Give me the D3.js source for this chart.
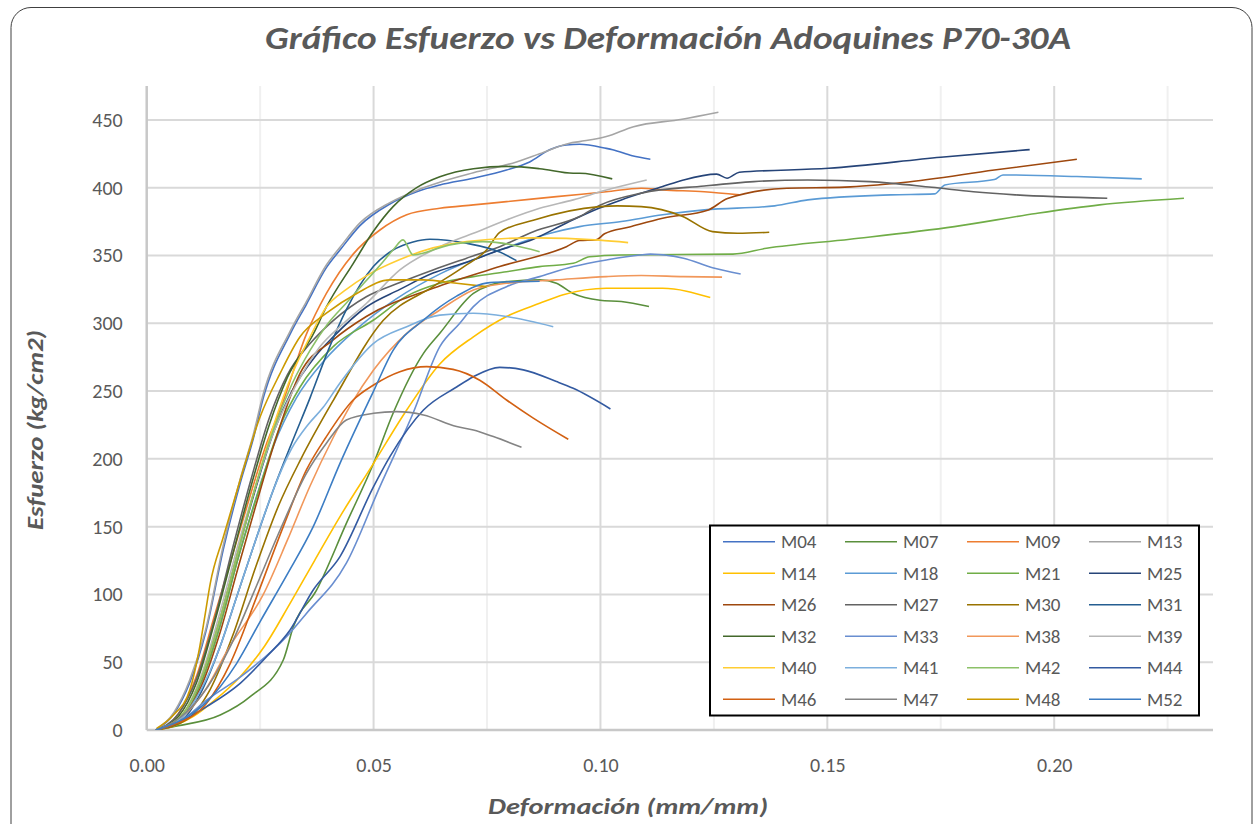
<!DOCTYPE html>
<html><head><meta charset="utf-8">
<script src="https://cdn.jsdelivr.net/npm/d3@7/dist/d3.min.js"></script>
<style>
html,body{margin:0;padding:0;background:#fff;}
svg{display:block;}
</style></head>
<body>
<svg id="chart" width="1258" height="824"></svg>
<script>
// ---------- DATA ----------
const chartTitle = "Gráfico Esfuerzo vs Deformación Adoquines P70-30A";
const xTitle = "Deformación (mm/mm)";
const yTitle = "Esfuerzo (kg/cm2)";
const xTicks = [0, 0.05, 0.10, 0.15, 0.20];
const xMinorTicks = [0.025, 0.075, 0.125, 0.175, 0.225];
const yTicks = [0, 50, 100, 150, 200, 250, 300, 350, 400, 450];
const seriesNames = ["M04","M07","M09","M13","M14","M18","M21","M25","M26","M27","M30","M31","M32","M33","M38","M39","M40","M41","M42","M44","M46","M47","M48","M52"];
const seriesColors = ["#4472C4","#5A8F3C","#ED7D31","#A5A5A5","#FFC000","#5B9BD5","#70AD47","#264478","#9E480E","#636363","#997300","#255E91","#43682B","#698ED0","#F1975A","#B7B7B7","#FFCD33","#7CAFDD","#8CC168","#335AA1","#D26012","#848484","#CC9A00","#3C7DC4"];

// [deformación, esfuerzo]
const M04 = [[0.002,0],[0.006,12],[0.0095,35],[0.013,72],[0.017,135],[0.0206,182],[0.0235,215],[0.0257,245],[0.0316,292],[0.0352,314],[0.0396,341],[0.0426,354],[0.047,372],[0.0536,388],[0.0595,397],[0.0646,402],[0.072,407],[0.0793,413],[0.0844,419],[0.0888,428],[0.0925,431.5],[0.0954,432],[0.1013,429],[0.1027,428],[0.107,423.5],[0.111,421]];
const M07 = [[0.002,0],[0.0059,2.5],[0.0162,11],[0.0228,24.6],[0.0301,51.6],[0.0323,76],[0.0374,103],[0.044,152.4],[0.05,196.7],[0.0543,233.6],[0.061,277.8],[0.0646,292.6],[0.072,322],[0.0793,330.7],[0.0866,332],[0.0903,329.5],[0.094,322],[0.0999,317],[0.1046,316],[0.1107,312.3]];
const M09 = [[0.002,0],[0.007,12],[0.011,40],[0.015,85],[0.019,130],[0.023,175],[0.0265,212],[0.0294,236],[0.0352,292],[0.0396,322],[0.0455,351],[0.0514,368.8],[0.0573,380],[0.0646,384.8],[0.072,387.3],[0.0793,389.7],[0.0903,393.4],[0.1013,397],[0.109,399.6],[0.1137,398.4],[0.1229,397],[0.1306,394.7]];
const M13 = [[0.002,0],[0.006,13],[0.0095,37],[0.013,74],[0.017,138],[0.0206,185],[0.0235,218],[0.0257,248],[0.0316,294],[0.0352,316],[0.0396,343],[0.0426,356],[0.047,374],[0.0536,389],[0.0595,398],[0.0646,404],[0.072,411],[0.0815,419],[0.0866,425],[0.0932,432.8],[0.0954,434],[0.1013,437.7],[0.1073,445],[0.118,450.5],[0.126,455.6]];
const M14 = [[0.002,0],[0.006,3],[0.0103,10],[0.015,22],[0.0206,39.3],[0.026,62],[0.0316,93.4],[0.037,125],[0.0426,157.4],[0.05,196.7],[0.0573,236],[0.0646,270],[0.072,290],[0.0793,305],[0.0866,314.7],[0.0918,321],[0.1013,325.8],[0.1087,325.8],[0.1137,325.8],[0.1242,319]];
const M18 = [[0.002,0],[0.008,10],[0.012,35],[0.016,75],[0.02,125],[0.024,170],[0.028,210],[0.033,245],[0.039,272],[0.046,295],[0.055,318],[0.065,337],[0.0778,354],[0.0885,366],[0.0954,371.3],[0.1046,375],[0.1137,380],[0.1229,383.6],[0.1384,386.6],[0.1457,391],[0.164,394.7],[0.1736,395.4],[0.1759,402],[0.1868,406],[0.1887,409.4],[0.205,408.2],[0.2193,406.5]];
const M21 = [[0.002,0],[0.008,10],[0.012,35],[0.016,75],[0.02,125],[0.025,180],[0.0295,225],[0.0338,253],[0.0411,282.8],[0.05,302.4],[0.0573,320],[0.0646,329.5],[0.072,334.4],[0.0793,338],[0.0866,341.8],[0.094,344.2],[0.0976,349],[0.1046,350.4],[0.1292,351],[0.1366,355.3],[0.155,362],[0.178,371.3],[0.196,381],[0.21,387.3],[0.2286,392.2]];
const M25 = [[0.002,0],[0.008,12],[0.012,38],[0.016,80],[0.02,130],[0.024,178],[0.028,220],[0.032,250],[0.037,275],[0.0411,290],[0.0484,312],[0.0558,325],[0.0631,337],[0.0705,345],[0.0778,354],[0.0852,362],[0.0925,374],[0.0998,385],[0.1046,391],[0.1137,400.8],[0.1183,405.7],[0.1256,410],[0.1279,407],[0.1306,411.4],[0.1503,414.3],[0.175,422.5],[0.1946,428.1]];
const M26 = [[0.002,0],[0.008,10],[0.012,32],[0.016,70],[0.02,118],[0.024,165],[0.028,210],[0.0338,263],[0.0411,287.7],[0.0484,305],[0.0631,325.8],[0.0778,341.8],[0.0925,356.5],[0.0954,361],[0.099,361.5],[0.1009,366],[0.1064,371],[0.1137,377.5],[0.1238,383.6],[0.128,392],[0.1411,399.6],[0.1539,400.4],[0.1667,403.8],[0.1868,413],[0.205,421]];
const M27 = [[0.002,0],[0.007,12],[0.011,38],[0.015,82],[0.019,135],[0.023,185],[0.027,230],[0.031,262],[0.036,285],[0.0411,302],[0.0484,319.6],[0.0558,330],[0.0631,339.3],[0.0705,348],[0.0778,356.5],[0.0852,367.5],[0.0954,378.7],[0.10,387.3],[0.109,396],[0.1229,401.3],[0.1338,404.5],[0.1457,405.7],[0.1594,404.5],[0.173,400.3],[0.1822,397],[0.1914,394.7],[0.2117,392.2]];
const M30 = [[0.002,0],[0.009,8],[0.014,30],[0.019,70],[0.024,120],[0.029,165],[0.034,200],[0.0411,243],[0.0521,302],[0.0631,327],[0.07,342],[0.0749,354],[0.0778,367],[0.0852,376],[0.0998,386],[0.1037,386.6],[0.109,386],[0.118,379],[0.1247,367.6],[0.1302,366.4],[0.1372,367.1]];
const M31 = [[0.002,0],[0.008,8],[0.012,28],[0.016,60],[0.02,100],[0.024,140],[0.028,178],[0.032,212],[0.036,245],[0.040,280],[0.044,310],[0.05,342],[0.0543,354],[0.0587,360],[0.0624,362],[0.0705,359],[0.0778,352.5],[0.0815,346.2]];
const M32 = [[0.002,0],[0.007,10],[0.011,35],[0.015,80],[0.019,130],[0.023,180],[0.027,225],[0.031,260],[0.0367,292],[0.0396,312],[0.0455,344],[0.05,368],[0.0543,386],[0.0595,400],[0.0646,408],[0.072,414],[0.0793,415.7],[0.0866,414],[0.094,410.6],[0.0954,410.7],[0.1026,406.5]];
const M33 = [[0.002,0],[0.008,8],[0.0132,22],[0.0206,39],[0.0308,68.8],[0.0352,86],[0.044,123],[0.0514,179.5],[0.0587,233.6],[0.0646,282.8],[0.069,300],[0.072,312.3],[0.0793,327],[0.0866,334.4],[0.094,341.8],[0.1013,346.7],[0.1087,350.4],[0.111,351],[0.1183,348],[0.1247,341],[0.1309,336.4]];
const M38 = [[0.002,0],[0.008,10],[0.013,30],[0.018,60],[0.0257,100],[0.031,140],[0.036,180],[0.041,215],[0.045,240],[0.05,265.5],[0.0573,292.6],[0.0646,309.8],[0.072,324.6],[0.0793,329.5],[0.0903,332],[0.1013,334.4],[0.109,335.2],[0.1183,334.4],[0.1268,334]];
const M39 = [[0.002,0],[0.008,12],[0.012,40],[0.016,85],[0.02,135],[0.024,180],[0.028,220],[0.033,255],[0.038,282],[0.0434,300],[0.0484,314.6],[0.0558,339.3],[0.0646,356.5],[0.072,366.4],[0.0793,376.2],[0.0866,384.8],[0.094,391],[0.1013,398.3],[0.1102,405.7]];
const M40 = [[0.002,0],[0.008,12],[0.012,38],[0.016,80],[0.02,130],[0.024,180],[0.028,225],[0.032,262],[0.036,290],[0.0396,312],[0.044,325],[0.0484,335],[0.0558,347],[0.0631,355.6],[0.0705,360.2],[0.0852,363],[0.0998,361.3],[0.1061,359.5]];
const M41 = [[0.002,0],[0.008,10],[0.012,30],[0.016,60],[0.02,100],[0.024,140],[0.028,178],[0.032,208],[0.0355,225],[0.0389,238],[0.0426,256],[0.05,285.2],[0.0573,297.5],[0.0646,306],[0.072,307.4],[0.0793,305],[0.0896,297.5]];
const M42 = [[0.002,0],[0.008,12],[0.012,38],[0.016,80],[0.02,130],[0.024,180],[0.028,222],[0.032,255],[0.036,280],[0.04,300],[0.044,315],[0.048,330],[0.052,345],[0.0545,355],[0.0565,361.5],[0.0587,350.4],[0.0668,357.8],[0.0741,360.2],[0.0866,352.8]];
const M44 = [[0.002,0],[0.006,4],[0.0132,17.2],[0.0206,34.4],[0.0264,54],[0.0316,73.8],[0.0367,103.3],[0.0426,127.9],[0.05,179.5],[0.0536,201.6],[0.061,236],[0.0683,253],[0.072,260.6],[0.0778,267.5],[0.083,265.6],[0.0903,257],[0.094,252],[0.1022,236.8]];
const M46 = [[0.002,0],[0.006,4],[0.0132,19.7],[0.0184,49],[0.0242,98],[0.0301,150],[0.0352,191.8],[0.0396,216.4],[0.0455,243.4],[0.05,254.5],[0.0558,264.3],[0.0617,268],[0.0675,266],[0.0734,258],[0.0793,243.4],[0.0852,230],[0.0929,214.4]];
const M47 = [[0.002,0],[0.006,6],[0.012,25],[0.0184,61.5],[0.0235,100.8],[0.0294,147.5],[0.0352,189.3],[0.0396,211.5],[0.044,228.7],[0.05,233.6],[0.055,234.8],[0.061,232.4],[0.0683,223.8],[0.072,221.3],[0.0764,216.4],[0.0826,208.5]];
const M48 = [[0.0022,1.2],[0.0059,11],[0.0095,29.5],[0.0117,61.5],[0.0128,83.6],[0.014,108],[0.0169,142.6],[0.0206,184.4],[0.025,231],[0.0294,263],[0.0338,290],[0.0396,307.4],[0.0463,322],[0.0536,332],[0.061,332],[0.0683,329.5],[0.0749,327]];
const M52 = [[0.002,0],[0.008,8],[0.013,20],[0.0198,49],[0.025,80],[0.031,115],[0.0367,150],[0.0426,196.7],[0.05,250],[0.0543,280],[0.061,302.4],[0.0683,320],[0.0756,330],[0.0866,331]];

const seriesData = [M04,M07,M09,M13,M14,M18,M21,M25,M26,M27,M30,M31,M32,M33,M38,M39,M40,M41,M42,M44,M46,M47,M48,M52];

// ---------- DRAW ----------
const svg = d3.select("#chart");
const FONT = "Carlito, Calibri, Lato, 'Open Sans', sans-serif";
const TXT = "#595959";
const plot = {left:146.7, right:1213, top:86, bottom:730};

const x = d3.scaleLinear().domain([0, 0.235]).range([plot.left, plot.right]);
const y = d3.scaleLinear().domain([0, 475]).range([plot.bottom, plot.top]);

svg.append("rect").attr("x",0).attr("y",0).attr("width",1258).attr("height",824).attr("fill","#fff");
svg.append("rect").attr("x",11).attr("y",7.5).attr("width",1241).attr("height",840)
  .attr("rx",20).attr("fill","#fff").attr("stroke","#404040").attr("stroke-width",1);

// gridlines
const grid = svg.append("g");
grid.selectAll("line.minor").data(xMinorTicks).join("line")
  .attr("x1",d=>x(d)).attr("x2",d=>x(d)).attr("y1",plot.top).attr("y2",plot.bottom)
  .attr("stroke","#f0f0f0").attr("stroke-width",2);
grid.selectAll("line.vmaj").data(xTicks.slice(1)).join("line")
  .attr("x1",d=>x(d)).attr("x2",d=>x(d)).attr("y1",plot.top).attr("y2",plot.bottom)
  .attr("stroke","#d9d9d9").attr("stroke-width",2);
grid.selectAll("line.h").data(yTicks.slice(1)).join("line")
  .attr("x1",plot.left).attr("x2",plot.right).attr("y1",d=>y(d)).attr("y2",d=>y(d))
  .attr("stroke","#d9d9d9").attr("stroke-width",2);

// axes
const xAxis = d3.axisBottom(x).tickValues(xTicks).tickFormat(d3.format(".2f")).tickSize(0).tickPadding(28);
const gx = svg.append("g").attr("transform",`translate(0,${plot.bottom})`).call(xAxis);
gx.select(".domain").attr("stroke","#c8c8c8").attr("stroke-width",2.5).attr("d",`M${plot.left},0H${plot.right}`);
gx.selectAll("text").attr("fill",TXT).style("font-family",FONT).style("font-size","20px");

const yAxis = d3.axisLeft(y).tickValues(yTicks).tickSize(0).tickPadding(24);
const gy = svg.append("g").attr("transform",`translate(${plot.left},0)`).call(yAxis);
gy.select(".domain").attr("stroke","#c8c8c8").attr("stroke-width",2.5).attr("d",`M0,${plot.top}V${plot.bottom}`);
gy.selectAll("text").attr("fill",TXT).style("font-family",FONT).style("font-size","20px");

// clip
svg.append("clipPath").attr("id","clip").append("rect")
  .attr("x",plot.left).attr("y",plot.top).attr("width",plot.right-plot.left).attr("height",plot.bottom-plot.top);

const line = d3.line().x(d=>x(d[0])).y(d=>y(d[1])).curve(d3.curveMonotoneX);
const lines = svg.append("g").attr("clip-path","url(#clip)");
seriesData.forEach((s,i)=>{
  lines.append("path").datum(s).attr("d",line).attr("fill","none")
    .attr("stroke",seriesColors[i]).attr("stroke-width",1.6).attr("stroke-linejoin","round");
});

// title
svg.append("text").attr("x",668).attr("y",49).attr("text-anchor","middle")
  .attr("fill",TXT).style("font-family",FONT).style("font-size","32px").style("font-weight","bold").style("font-style","italic")
  .attr("textLength",806).attr("lengthAdjust","spacingAndGlyphs").text(chartTitle);
svg.append("text").attr("x",628).attr("y",814).attr("text-anchor","middle")
  .attr("fill",TXT).style("font-family",FONT).style("font-size","23px").style("font-weight","bold").style("font-style","italic")
  .attr("textLength",280).attr("lengthAdjust","spacingAndGlyphs").text(xTitle);
svg.append("text").attr("transform","translate(43,430) rotate(-90)").attr("text-anchor","middle")
  .attr("fill",TXT).style("font-family",FONT).style("font-size","23px").style("font-weight","bold").style("font-style","italic")
  .attr("textLength",200).attr("lengthAdjust","spacingAndGlyphs").text(yTitle);

// legend
const lg = svg.append("g");
lg.append("rect").attr("x",710).attr("y",525.5).attr("width",489).attr("height",190)
  .attr("fill","#fff").attr("stroke","#000").attr("stroke-width",2);
const colX = [723, 845, 967, 1089];
const rowY = [541.7, 573.2, 604.7, 636.2, 667.7, 699.2];
seriesNames.forEach((n,i)=>{
  const cx = colX[i%4], cy = rowY[Math.floor(i/4)];
  lg.append("line").attr("x1",cx).attr("x2",cx+52).attr("y1",cy).attr("y2",cy)
    .attr("stroke",seriesColors[i]).attr("stroke-width",1.6);
  lg.append("text").attr("x",cx+58).attr("y",cy).attr("dy","0.35em")
    .attr("fill",TXT).style("font-family",FONT).style("font-size","19px").text(n);
});
</script>
</body></html>
